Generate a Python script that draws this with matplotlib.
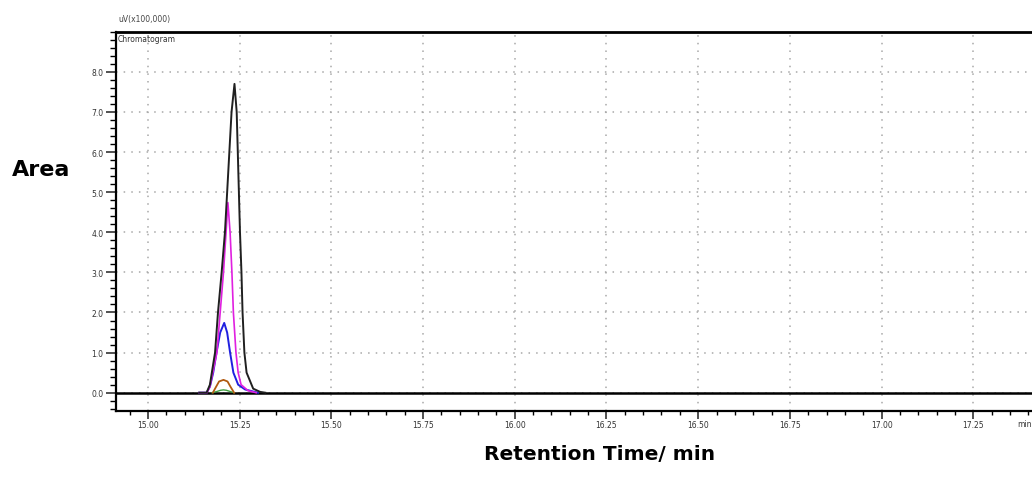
import numpy as np
import matplotlib.pyplot as plt
from matplotlib.ticker import MultipleLocator

# chromatogram traces (time in min, signal in uV x100,000)
t_black = [15.140, 15.160, 15.169, 15.183, 15.191, 15.201, 15.210, 15.216, 15.222, 15.228,
           15.236, 15.242, 15.245, 15.248, 15.251, 15.255, 15.258, 15.263, 15.269, 15.287,
           15.306, 15.320]
y_black = [0.0, 0.0, 0.20, 1.00, 2.00, 3.00, 4.00, 5.00, 6.00, 7.00,
           7.70, 7.00, 6.00, 5.00, 4.00, 3.00, 2.00, 1.00, 0.50, 0.10,
           0.02, 0.0]

t_magenta = [15.140, 15.161, 15.169, 15.188, 15.197, 15.206, 15.213, 15.218, 15.224,
             15.229, 15.233, 15.240, 15.246, 15.254, 15.273, 15.295]
y_magenta = [0.0, 0.0, 0.15, 1.00, 2.00, 3.00, 4.00, 4.74, 4.00,
             3.00, 2.00, 1.00, 0.50, 0.20, 0.05, 0.0]

t_blue = [15.140, 15.160, 15.169, 15.178, 15.187, 15.197, 15.208, 15.216, 15.224,
          15.233, 15.246, 15.265, 15.300]
y_blue = [0.0, 0.0, 0.15, 0.50, 1.00, 1.50, 1.74, 1.50, 1.00,
          0.50, 0.20, 0.08, 0.0]

t_brown = [15.177, 15.186, 15.194, 15.206, 15.217, 15.225, 15.235]
y_brown = [0.0, 0.15, 0.28, 0.32, 0.28, 0.15, 0.0]

t_green = [15.175, 15.188, 15.198, 15.206, 15.214, 15.224, 15.235]
y_green = [0.0, 0.03, 0.06, 0.07, 0.06, 0.03, 0.0]

x_ticks = [15.00, 15.25, 15.50, 15.75, 16.00, 16.25, 16.50, 16.75, 17.00, 17.25]
y_ticks = [0.0, 1.0, 2.0, 3.0, 4.0, 5.0, 6.0, 7.0, 8.0]

fig = plt.figure(figsize=(10.32, 4.89), dpi=100)
ax = fig.add_axes([0.1124, 0.158, 0.8876, 0.775])

ax.set_xlim(14.913, 17.41)
ax.set_ylim(-0.45, 9.0)

ax.grid(True, which='major', color='#a8a8a8', linestyle=(0, (1, 4)), linewidth=1.1)
ax.axhline(0, color='black', linewidth=1.8, zorder=2)

ax.plot(t_green, y_green, color='#40a040', lw=1.0)
ax.plot(t_brown, y_brown, color='#b05a10', lw=1.3)
ax.plot(t_blue, y_blue, color='#2020e0', lw=1.4)
ax.plot(t_magenta, y_magenta, color='#e020e0', lw=1.2)
ax.plot(t_black, y_black, color='#202020', lw=1.4)

ax.set_xticks(x_ticks)
ax.set_xticklabels(['%.2f' % v for v in x_ticks])
ax.set_yticks(y_ticks)
ax.set_yticklabels(['%.1f' % v for v in y_ticks])
ax.xaxis.set_minor_locator(MultipleLocator(0.05))
ax.yaxis.set_minor_locator(MultipleLocator(0.2))

ax.tick_params(axis='both', which='major', labelsize=5.5, colors='#333333', width=1.2)
ax.tick_params(axis='y', which='major', length=7, pad=2)
ax.tick_params(axis='y', which='minor', length=4, width=1.0)
ax.tick_params(axis='x', which='major', length=6, pad=1)
ax.tick_params(axis='x', which='minor', length=3, width=1.0)

ax.spines['right'].set_visible(False)
ax.spines['top'].set_linewidth(2.0)
ax.spines['left'].set_linewidth(1.6)
ax.spines['bottom'].set_linewidth(1.6)

fig.text(0.1145, 0.955, 'uV(x100,000)', fontsize=5.5, color='#444444')
ax.text(0.002, 0.995, 'Chromatogram', transform=ax.transAxes, fontsize=5.5,
        color='#333333', va='top', ha='left')
ax.text(1.0, -0.022, 'min', transform=ax.transAxes, fontsize=5.5, color='#333333',
        va='top', ha='right')

fig.text(0.012, 0.652, 'Area', fontsize=16, fontweight='bold', va='center')
fig.text(0.581, 0.07, 'Retention Time/ min', fontsize=14.5, fontweight='bold',
         ha='center', va='center')

fig.savefig('out.png', dpi=100)
